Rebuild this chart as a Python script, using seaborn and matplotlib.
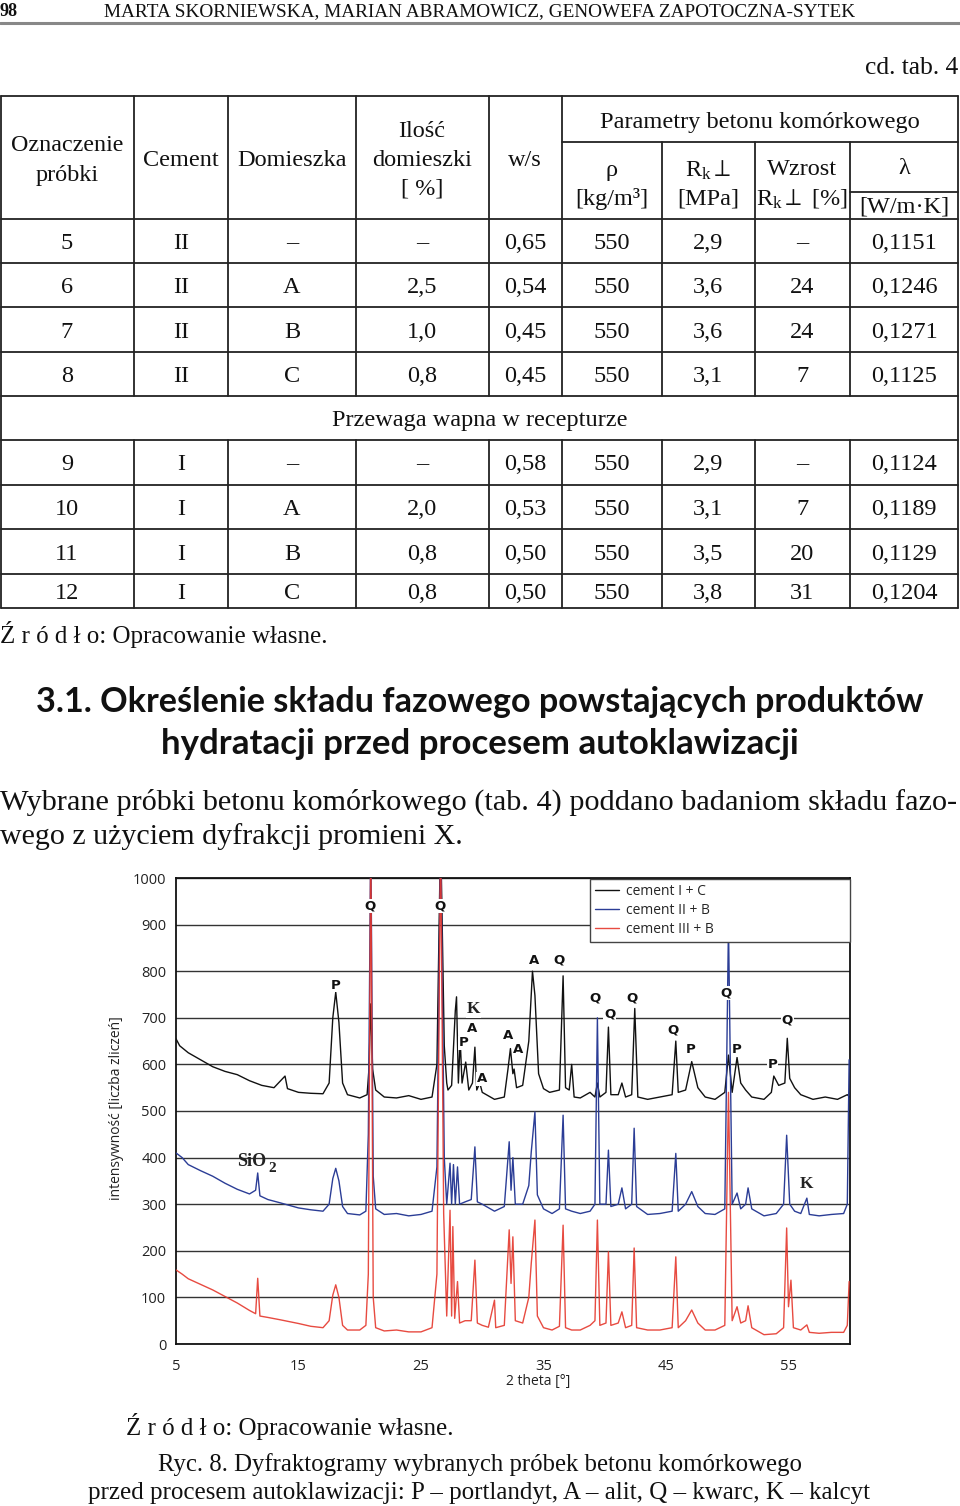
"""
Page recreation: table 4 (continued), section 3.1 text and XRD diffractogram (Ryc. 8)
"""

import matplotlib
matplotlib.use('Agg')
import matplotlib.pyplot as plt
import seaborn as sns
import pandas as pd
from matplotlib.lines import Line2D

sns.set_style("white")
plt.rcParams['font.family'] = ['Liberation Serif', 'DejaVu Serif']
plt.rcParams['mathtext.fontset'] = 'custom'
plt.rcParams['mathtext.rm'] = 'Liberation Serif'
plt.rcParams['mathtext.it'] = 'Liberation Serif:italic'

# ========================================
# Data
# ========================================
table_rows_a = [
    ['5', 'II', '–', '–', '0,65', '550', '2,9', '–', '0,1151'],
    ['6', 'II', 'A', '2,5', '0,54', '550', '3,6', '24', '0,1246'],
    ['7', 'II', 'B', '1,0', '0,45', '550', '3,6', '24', '0,1271'],
    ['8', 'II', 'C', '0,8', '0,45', '550', '3,1', '7', '0,1125'],
]
table_rows_b = [
    ['9', 'I', '–', '–', '0,58', '550', '2,9', '–', '0,1124'],
    ['10', 'I', 'A', '2,0', '0,53', '550', '3,1', '7', '0,1189'],
    ['11', 'I', 'B', '0,8', '0,50', '550', '3,5', '20', '0,1129'],
    ['12', 'I', 'C', '0,8', '0,50', '550', '3,8', '31', '0,1204'],
]

# XRD traces (2 theta, counts)
black_pts = [
    (5.0, 655), (5.3, 640), (6, 625), (7, 610), (8, 595), (9, 585), (10, 578), (11, 565),
    (12, 555), (13, 550), (13.9, 575), (14.1, 548), (15, 540), (16, 538), (17, 537),
    (17.5, 560), (17.8, 700), (18.04, 755), (18.3, 690), (18.6, 560), (19, 535), (20, 528),
    (20.6, 535), (20.75, 590), (20.9, 730), (21.05, 590), (21.3, 545), (22, 530), (23, 528),
    (24, 533), (25, 525), (25.9, 530), (26.3, 600), (26.6, 1100), (26.9, 640), (27.1, 560),
    (27.2, 545), (27.5, 555), (27.8, 715), (27.9, 745), (28.05, 560), (28.2, 652),
    (28.35, 560), (28.65, 605), (28.9, 545), (29.2, 560), (29.4, 637), (29.55, 545),
    (29.8, 560), (30.0, 540), (31, 525), (31.8, 530), (32.1, 590), (32.3, 634), (32.5, 580),
    (32.6, 590), (32.8, 550), (33.3, 555), (33.8, 650), (34.1, 800), (34.3, 748), (34.6, 580),
    (35, 548), (35.5, 540), (36.3, 545), (36.6, 790), (36.8, 550), (37.1, 545), (37.3, 600),
    (37.5, 530), (38, 528), (38.8, 540), (39.2, 530), (39.4, 560), (39.6, 530), (40.1, 540),
    (40.3, 680), (40.5, 535), (41.1, 535), (41.4, 560), (41.7, 530), (42.2, 535), (42.45, 720),
    (42.7, 530), (43.5, 525), (44.5, 530), (45.5, 535), (45.8, 650), (46.0, 540), (46.6, 545),
    (47.1, 606), (47.6, 550), (48.2, 530), (49, 525), (49.8, 540), (50.1, 620), (50.4, 540),
    (50.8, 615), (51.1, 560), (51.5, 545), (52, 530), (53, 525), (53.6, 540), (53.8, 575),
    (54.2, 555), (54.7, 560), (54.9, 656), (55.1, 570), (55.5, 550), (56, 535), (57, 525),
    (58, 530), (59, 525), (59.8, 535), (60, 530),
]
blue_pts = [
    (5, 410), (5.5, 400), (6, 385), (7, 372), (8, 360), (9, 345), (10, 332), (11, 322),
    (11.5, 330), (11.67, 367), (11.85, 318), (12.5, 310), (13.5, 303), (15, 292), (16, 288),
    (17, 285), (17.5, 300), (17.8, 355), (18.04, 377), (18.3, 350), (18.6, 295), (19, 280),
    (20, 277), (20.5, 285), (20.7, 450), (20.9, 1100), (21.1, 360), (21.3, 290), (22, 278),
    (23, 280), (24, 275), (25, 278), (25.9, 285), (26.3, 380), (26.6, 1100), (26.9, 400),
    (27.1, 300), (27.37, 388), (27.5, 300), (27.65, 385), (27.8, 300), (27.98, 380),
    (28.15, 300), (28.6, 305), (29.1, 310), (29.4, 423), (29.6, 305), (30, 300), (31, 285),
    (31.8, 295), (32.2, 434), (32.35, 330), (32.5, 400), (32.7, 300), (33.3, 300), (33.8, 340),
    (34.0, 412), (34.3, 498), (34.5, 320), (35, 290), (35.7, 280), (36.3, 290), (36.6, 491),
    (36.8, 290), (37.3, 285), (38, 280), (38.8, 285), (39.2, 300), (39.4, 700), (39.6, 300),
    (40.1, 300), (40.3, 416), (40.5, 295), (41.1, 300), (41.4, 335), (41.7, 290), (42.2, 300),
    (42.4, 463), (42.6, 295), (43.5, 278), (44.5, 280), (45.5, 285), (45.8, 409), (46.0, 285),
    (46.6, 300), (47.1, 327), (47.6, 295), (48.2, 280), (49, 278), (49.8, 290), (50.1, 900),
    (50.4, 300), (50.8, 324), (51.1, 290), (51.5, 300), (51.7, 335), (52, 290), (53, 275),
    (54, 280), (54.6, 300), (54.85, 448), (55.1, 300), (55.5, 285), (56, 280), (56.5, 313),
    (56.7, 278), (57.5, 275), (58.5, 278), (59.5, 280), (59.8, 300), (59.95, 610),
]
red_pts = [
    (5, 159), (5.5, 150), (6, 140), (7, 128), (8, 116), (9, 102), (10, 88), (11, 72),
    (11.5, 65), (11.67, 141), (11.85, 60), (12.5, 57), (13.5, 52), (15, 44), (16, 38),
    (17, 35), (17.5, 50), (17.8, 105), (18.04, 127), (18.3, 100), (18.6, 40), (19, 30),
    (20, 30), (20.5, 40), (20.7, 150), (20.9, 1100), (21.1, 100), (21.3, 35), (22, 28),
    (23, 30), (24, 26), (25, 26), (25.9, 35), (26.3, 150), (26.6, 1100), (26.85, 280),
    (27.1, 60), (27.37, 287), (27.5, 60), (27.6, 252), (27.75, 55), (27.98, 134), (28.15, 45),
    (28.6, 50), (29.1, 50), (29.4, 180), (29.6, 45), (30, 40), (30.5, 36), (31.0, 94),
    (31.1, 35), (31.8, 40), (32.2, 245), (32.35, 130), (32.5, 230), (32.7, 50), (33.3, 45),
    (33.8, 100), (34.0, 173), (34.3, 266), (34.5, 60), (35, 35), (35.7, 30), (36.3, 38),
    (36.6, 255), (36.8, 35), (37.3, 30), (38, 30), (38.8, 40), (39.2, 50), (39.4, 266),
    (39.6, 40), (40.1, 45), (40.3, 198), (40.5, 40), (41.1, 45), (41.4, 69), (41.7, 35),
    (42.2, 40), (42.4, 206), (42.6, 35), (43.5, 30), (44.5, 30), (45.5, 35), (45.8, 187),
    (46.0, 35), (46.6, 50), (47.1, 73), (47.6, 45), (48.2, 30), (49, 30), (49.8, 40),
    (50.1, 540), (50.4, 50), (50.8, 80), (51.1, 45), (51.5, 50), (51.7, 82), (52, 35),
    (53, 20), (54, 22), (54.6, 35), (54.85, 249), (55.0, 80), (55.2, 137), (55.4, 35),
    (56, 30), (56.5, 41), (56.7, 25), (57.5, 23), (58.5, 25), (59.5, 25), (59.8, 40),
    (59.95, 134),
]
series_names = ['cement I + C', 'cement II + B', 'cement III + B']

# phase labels (letter, 2 theta, counts)
peak_labels = [
    ('Q', 20.84, 940), ('Q', 26.55, 940), ('P', 18.06, 770), ('A', 34.2, 824), ('Q', 36.27, 824),
    ('A', 29.16, 676), ('P', 28.5, 646), ('A', 30.0, 569), ('A', 32.1, 661), ('A', 32.9, 631),
    ('Q', 39.2, 742), ('Q', 40.4, 708), ('Q', 42.2, 742), ('Q', 45.6, 674), ('P', 47.0, 631),
    ('Q', 49.9, 753), ('P', 50.8, 631), ('P', 53.7, 599), ('Q', 54.9, 695),
]
serif_labels = [('K', 29.3, 719), ('K', 56.5, 343)]

# ========================================
# Page helpers
# ========================================
W, H = 960, 1506
fig = plt.figure(figsize=(W / 100, H / 100), dpi=100)
renderer = fig.canvas.get_renderer()
SERIF = ['Liberation Serif', 'DejaVu Serif']
SANS = ['Open Sans', 'DejaVu Sans']


def put(x, y, s, size=17.5, ha='center', fam=SERIF, weight='normal', width=None, dy=2.5):
    t = fig.text(x / W, 1 - (y + dy) / H, s, fontsize=size, ha=ha, va='center', family=fam,
                 weight=weight, color='#111111')
    if width:
        bb = t.get_window_extent(renderer)
        t.set_fontsize(size * width / bb.width)
    return t


def hline(y, x0, x1, lw=1.3, color='#222222'):
    fig.add_artist(Line2D([x0 / W, x1 / W], [1 - y / H, 1 - y / H], lw=lw, color=color))


def vline(x, y0, y1, lw=1.3, color='#222222'):
    fig.add_artist(Line2D([x / W, x / W], [1 - y0 / H, 1 - y1 / H], lw=lw, color=color))


# ========================================
# Header + table
# ========================================
put(0, 9, '98', ha='left', weight='bold', width=18)
put(480, 9, 'MARTA SKORNIEWSKA, MARIAN ABRAMOWICZ, GENOWEFA ZAPOTOCZNA-SYTEK', width=750)
hline(23, 0, 960, lw=2.2, color='#888888')
put(958, 66, 'cd. tab. 4', ha='right', width=94)

col_x = [67, 181, 292, 422, 525, 612, 708, 802, 904]
col_edges = [1, 134, 228, 356, 489, 562, 662, 755, 850, 958]
row_lines = [219, 263, 307, 352, 396, 440, 485, 529, 574, 608]

for y in [96] + row_lines:
    hline(y, 1, 958)
hline(142, 562, 958)
hline(192, 850, 958)
for i, x in enumerate(col_edges):
    top = 142 if 6 <= i <= 8 else 96
    if i in (0, 9):
        vline(x, 96, 608)
    else:
        vline(x, top, 396)
        vline(x, 440, 608)

put(67, 143, 'Oznaczenie', width=112)
put(67, 173, 'próbki')
put(181, 158, 'Cement')
put(292, 158, 'Domieszka')
put(422, 129, 'Ilość')
put(422, 158, 'domieszki')
put(422, 187, '[ %]')
put(525, 158, 'w/s')
put(760, 120, 'Parametry betonu komórkowego', width=320)
put(612, 168, 'ρ')
put(612, 196, '[kg/m³]')
put(708, 168, r'R$_\mathrm{k}\perp$')
put(708, 196, '[MPa]')
put(802, 167, 'Wzrost')
put(802, 196, r'R$_\mathrm{k}\perp$ [%]')
put(904, 166, 'λ')
put(904, 205, '[W/m·K]')

for rows, start in [(table_rows_a, 0), (table_rows_b, 5)]:
    for r, row in enumerate(rows):
        yc = (row_lines[start + r] + row_lines[start + r + 1]) / 2
        for cx, val in zip(col_x, row):
            put(cx, yc, val)
put(480, 418, 'Przewaga wapna w recepturze')
put(0, 632, 'Ź r ó d ł o: Opracowanie własne.', ha='left', width=328)

# ========================================
# Section heading + paragraph
# ========================================
HEAD = ['Lato', 'DejaVu Sans']
put(480, 700, '3.1. Określenie składu fazowego powstających produktów', fam=HEAD,
    weight='bold', width=886)
put(480, 741, 'hydratacji przed procesem autoklawizacji', fam=HEAD, weight='bold', width=637)
put(0, 800, 'Wybrane próbki betonu komórkowego (tab. 4) poddano badaniom składu fazo-',
    ha='left', width=958)
put(0, 834, 'wego z użyciem dyfrakcji promieni X.', ha='left', width=463)

# ========================================
# Diffractogram
# ========================================
ax = fig.add_axes([176 / W, 1 - 1344 / H, (849.75 - 176) / W, (1344 - 878) / H])
colors = ['#111111', '#2b3d96', '#e5372c']
for pts, name, c, z in zip([black_pts, blue_pts, red_pts], series_names, colors, [2, 3, 4]):
    df = pd.DataFrame(pts, columns=['theta', 'counts'])
    sns.lineplot(data=df, x='theta', y='counts', ax=ax, color=c, lw=1.0, sort=False,
                 estimator=None, label=name, zorder=z, alpha=0.9 if z == 4 else 1)

ax.set_xlim(5, 60)
ax.set_ylim(0, 1000)
ax.set_xticks([5, 15, 25, 35, 45, 55])
ax.set_yticks(range(0, 1001, 100))
ax.yaxis.grid(True, color='#333333', lw=1.0)
ax.xaxis.grid(False)
for s in ax.spines.values():
    s.set_color('#111111')
    s.set_linewidth(1.3)
ax.tick_params(axis='both', direction='out', length=4, width=1, color='#111111',
               labelsize=10.5, labelcolor='#222222')
ax.tick_params(axis='x', pad=7)
ax.tick_params(axis='y', pad=3)
for lab in ax.get_xticklabels() + ax.get_yticklabels():
    lab.set_family(SANS)
ax.set_xlabel('2 theta [°]', fontsize=10, family=SANS, color='#222222')
ax.set_ylabel('intensywność [liczba zliczeń]', fontsize=10, family=SANS, color='#222222')
ax.xaxis.set_label_coords(0.537, -0.064)
ax.yaxis.set_label_coords(-0.077, 0.506)

for letter, x, y in peak_labels:
    ax.text(x, y, letter, ha='center', va='center', fontsize=9.5, weight='bold',
            family='DejaVu Sans', color='#111111', zorder=6,
            bbox=dict(facecolor='white', edgecolor='none', pad=0.5))
for letter, x, y in serif_labels:
    ax.text(x, y, letter, ha='center', va='center', fontsize=12.5, weight='bold',
            family=SERIF, color='#222222', zorder=6,
            bbox=dict(facecolor='white', edgecolor='none', pad=0.5))
ax.text(12.35, 392, 'SiO', ha='right', va='center', fontsize=13, weight='bold',
        family=SERIF, color='#222222', zorder=6)
ax.text(12.55, 377, '2', ha='left', va='center', fontsize=11, weight='bold',
        family=SERIF, color='#222222', zorder=6)

leg = ax.legend(loc='upper left', bbox_to_anchor=(0.614, 0.865, 0.386, 0.133), mode='expand',
                borderaxespad=0, frameon=True, fancybox=False, edgecolor='#444444',
                framealpha=1, handlelength=1.75, handletextpad=0.55, labelspacing=0.3,
                borderpad=0.35, prop={'family': SANS, 'size': 10})
leg.get_frame().set_linewidth(1.0)
leg.set_zorder(10)

# ========================================
# Captions
# ========================================
put(126, 1424, 'Ź r ó d ł o: Opracowanie własne.', ha='left', width=327)
put(480, 1462, 'Ryc. 8. Dyfraktogramy wybranych próbek betonu komórkowego', width=640)
put(479, 1491, 'przed procesem autoklawizacji: P – portlandyt, A – alit, Q – kwarc, K – kalcyt',
    width=782)

fig.savefig('out.png', dpi=100)
